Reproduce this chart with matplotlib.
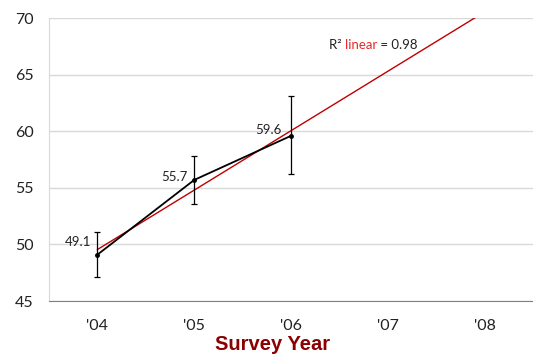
import matplotlib.pyplot as plt
import numpy as np

# survey results per year
years = ["'04", "'05", "'06", "'07", "'08"]
values = [49.1, 55.7, 59.6]
err_lo = [2.0, 2.1, 3.4]
err_hi = [2.0, 2.1, 3.5]
yticks = [45, 50, 55, 60, 65, 70]

plt.rcParams['font.family'] = ['Lato', 'DejaVu Sans']

fig = plt.figure(figsize=(5.33, 3.55), dpi=100)
ax = fig.add_axes([0.092, 0.152, 0.908, 0.797])

x = np.arange(1, len(values) + 1)
xall = np.arange(1, len(years) + 1)

# linear trend (fit on observed points, forecast forward)
slope, icpt = np.polyfit(x, values, 1)
pred = slope * x + icpt
r2 = 1 - np.sum((np.array(values) - pred) ** 2) / np.sum((np.array(values) - np.mean(values)) ** 2)
xt = np.array([1, 5.5])
ax.plot(xt, slope * xt + icpt, color='#C00000', lw=1.0, zorder=3)

ax.errorbar(x, values, yerr=[err_lo, err_hi], color='black', lw=1.3, marker='o', ms=2.5,
            ecolor='black', elinewidth=0.9, capsize=2.5, capthick=0.9, zorder=4)

# data labels (offsets in points)
offs = [(-14, 9), (-14, 2), (-16, 4)]
for xi, v, o in zip(x, values, offs):
    ax.annotate(f'{v}', (xi, v), xytext=o, textcoords='offset points',
                ha='center', va='center', fontsize=9.5, color='#222222')

# R squared label, pieces chained left to right
t1 = ax.text(3.39, 67.6, 'R² ', ha='left', va='center', fontsize=9.5, color='#222222')
t2 = ax.annotate('linear', xy=(1, 0), xycoords=t1, ha='left', va='bottom',
                 fontsize=9.5, color='#E8282B')
ax.annotate(f' = {r2:.2f}', xy=(1, 0), xycoords=t2, ha='left', va='bottom',
            fontsize=9.5, color='#222222')

ax.set_xlim(0.5, 5.5)
ax.set_ylim(45, 70)
ax.set_yticks(yticks)
ax.set_xticks(xall)
ax.set_xticklabels(years)
ax.yaxis.grid(True, color='#D9D9D9', lw=1.0)
ax.set_axisbelow(True)
ax.tick_params(axis='both', length=0, labelsize=11.5, colors='#222222')
ax.tick_params(axis='y', pad=11)
ax.tick_params(axis='x', pad=13)
for s in ['top', 'right']:
    ax.spines[s].set_visible(False)
ax.spines['left'].set_color('#D9D9D9')
ax.spines['bottom'].set_color('#808080')

fig.text(0.512, 0.03, 'Survey Year', ha='center', va='center', fontsize=14.5,
         fontweight='bold', color='#8B0000', family='Liberation Sans')

fig.savefig('out.png', dpi=100)
